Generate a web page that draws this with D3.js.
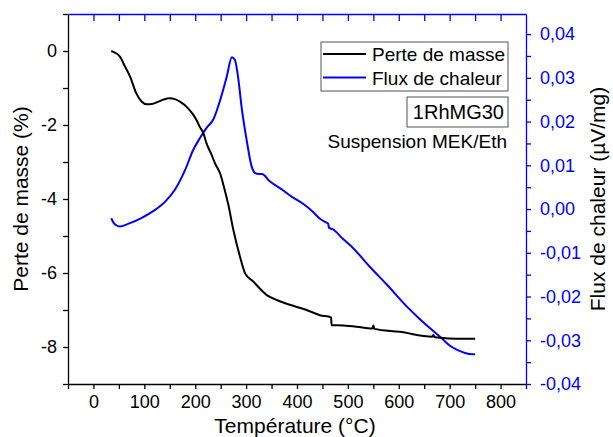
<!DOCTYPE html>
<html><head><meta charset="utf-8">
<script src="https://cdn.jsdelivr.net/npm/d3@7"></script>
<style>
html,body{margin:0;padding:0;background:#fff;}
svg{display:block;font-family:"Liberation Sans",Arial,sans-serif;}
</style></head>
<body>
<svg id="chart" width="613" height="437"></svg>
<script>
// ---- data ----
const massT = [35,40,52,62,72,84,95,105,115,124,138,150,160,170,186,196,203,209,216,222,232,239,249,258,265,275,288,298,314,340,360,386,419,445,467,468,491,517,548,550,552,602,666,668,670,700,725,750];
const massV = [0,-0.03,-0.15,-0.42,-0.69,-1.14,-1.37,-1.44,-1.43,-1.39,-1.31,-1.28,-1.30,-1.37,-1.55,-1.72,-1.88,-2.05,-2.22,-2.49,-2.80,-3.04,-3.31,-3.76,-4.15,-4.84,-5.56,-6.01,-6.23,-6.59,-6.73,-6.86,-7.00,-7.14,-7.20,-7.41,-7.42,-7.45,-7.50,-7.42,-7.51,-7.59,-7.72,-7.67,-7.73,-7.77,-7.78,-7.78];
const fluxT = [35,42,52,68,95,121,141,160,180,196,209,222,236,249,262,272,278,285,291,301,311,318,324,331,347,370,390,412,430,445,458,461,463,470,490,511,543,576,616,640,665,684,700,715,730,745,750];
const fluxV = [-0.0021,-0.0035,-0.0040,-0.0034,-0.0020,-0.0002,0.0017,0.0044,0.0089,0.0135,0.0162,0.0185,0.0206,0.0249,0.0303,0.0347,0.0341,0.0295,0.0234,0.0158,0.0097,0.0082,0.0080,0.0080,0.0063,0.0045,0.0028,0.0012,-0.0005,-0.0022,-0.0031,-0.0033,-0.0043,-0.0046,-0.0068,-0.0090,-0.0132,-0.0172,-0.0223,-0.0250,-0.0276,-0.0295,-0.0312,-0.0322,-0.0329,-0.0332,-0.0332];
const xTickLabels = [0,100,200,300,400,500,600,700,800];
const yLeftTickLabels = [-8,-6,-4,-2,0];
const yRightTickLabels = ["-0,04","-0,03","-0,02","-0,01","0,00","0,01","0,02","0,03","0,04"];
const seriesNames = ["Perte de masse","Flux de chaleur"];
const sampleLabel = "1RhMG30";
const noteLabel = "Suspension MEK/Eth";
const xTitle = "Température (°C)";
const yLeftTitle = "Perte de masse (%)";
const yRightTitle = "Flux de chaleur (µV/mg)";

// ---- layout ----
const L = 68, R = 526, T = 14, B = 384;
const BLUE = "#0000ff";
const svg = d3.select("#chart");
const x = d3.scaleLinear([-50, 850], [L, R]);
const yL = d3.scaleLinear([-9, 1], [B, T]);
const yR = d3.scaleLinear([-0.04, 0.0446], [B, T]);

const xTicks = d3.range(-50, 851, 50);
const yLTicks = d3.range(-9, 2, 1);
const yRTicks = d3.range(-8, 9, 1).map(d => d * 0.005);

function styleAxis(g, color, fs) {
  g.select(".domain").attr("stroke", color).attr("stroke-width", 1.3);
  g.selectAll(".tick line").attr("stroke", color).attr("stroke-width", 1.3);
  g.selectAll(".tick text").attr("fill", color).attr("font-size", fs)
    .attr("font-family", '"Liberation Sans",Arial,sans-serif');
}

// bottom axis
const gx = svg.append("g").attr("transform", `translate(0,${B})`)
  .call(d3.axisBottom(x).tickValues(xTicks).tickSize(5).tickSizeOuter(0).tickPadding(6)
    .tickFormat(d => xTickLabels.includes(d) ? String(d) : ""));
styleAxis(gx, "#000", 18);

// top axis (blue, inward ticks)
const gt = svg.append("g").attr("transform", `translate(0,${T})`)
  .call(d3.axisBottom(x).tickValues(d3.range(0, 801, 50)).tickSize(7).tickSizeOuter(0).tickFormat(""));
styleAxis(gt, BLUE, 18);

// left axis
const gl = svg.append("g").attr("transform", `translate(${L},0)`)
  .call(d3.axisLeft(yL).tickValues(yLTicks).tickSize(5).tickSizeOuter(0).tickPadding(6)
    .tickFormat(d => yLeftTickLabels.includes(d) ? String(d) : ""));
styleAxis(gl, "#000", 18);

// right axis
const gr = svg.append("g").attr("transform", `translate(${R},0)`)
  .call(d3.axisRight(yR).tickValues(yRTicks).tickSize(5).tickSizeOuter(0).tickPadding(9)
    .tickFormat((d, i) => i % 2 === 0 ? yRightTickLabels[i / 2] : ""));
styleAxis(gr, BLUE, 18);

// curves
const massData = massT.map((t, i) => [t, massV[i]]);
const fluxData = fluxT.map((t, i) => [t, fluxV[i]]);
svg.append("path").datum(fluxData)
  .attr("fill", "none").attr("stroke", BLUE).attr("stroke-width", 2)
  .attr("d", d3.line().x(d => x(d[0])).y(d => yR(d[1])).curve(d3.curveMonotoneX));
svg.append("path").datum(massData)
  .attr("fill", "none").attr("stroke", "#000").attr("stroke-width", 2)
  .attr("d", d3.line().x(d => x(d[0])).y(d => yL(d[1])).curve(d3.curveMonotoneX));

// axis titles
svg.append("text").attr("x", 295).attr("y", 433).attr("text-anchor", "middle")
  .attr("font-size", 21).text(xTitle);
svg.append("text").attr("transform", "translate(28,199) rotate(-90)").attr("text-anchor", "middle")
  .attr("font-size", 21).text(yLeftTitle);
svg.append("text").attr("transform", "translate(605,199) rotate(-90)").attr("text-anchor", "middle")
  .attr("font-size", 21).text(yRightTitle);

// legend
svg.append("rect").attr("x", 321).attr("y", 42).attr("width", 187).attr("height", 49)
  .attr("fill", "#fff").attr("stroke", "#555").attr("stroke-width", 1);
const legColors = ["#000", BLUE];
seriesNames.forEach((n, i) => {
  const yy = 54 + i * 23.5;
  svg.append("line").attr("x1", 323).attr("x2", 366).attr("y1", yy).attr("y2", yy)
    .attr("stroke", legColors[i]).attr("stroke-width", 2);
  svg.append("text").attr("x", 372).attr("y", yy + 7).attr("font-size", 19).attr("fill", "#000").text(n);
});
svg.append("rect").attr("x", 407).attr("y", 97).attr("width", 101).attr("height", 30)
  .attr("fill", "#fff").attr("stroke", "#555").attr("stroke-width", 1);
svg.append("text").attr("x", 504).attr("y", 119).attr("text-anchor", "end")
  .attr("font-size", 20).text(sampleLabel);
svg.append("text").attr("x", 507).attr("y", 148).attr("text-anchor", "end")
  .attr("font-size", 19).text(noteLabel);
</script>
</body></html>
